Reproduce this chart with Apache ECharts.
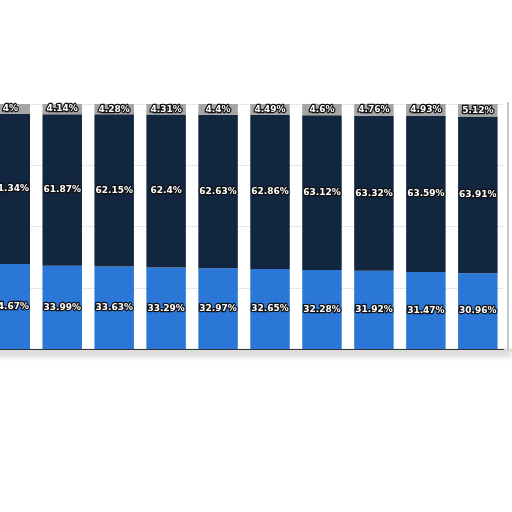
<!DOCTYPE html>
<html>
<head>
<meta charset="utf-8">
<script src="https://cdn.jsdelivr.net/npm/echarts@6/dist/echarts.min.js"></script>
<style>
  html, body { margin: 0; padding: 0; background: #fff; overflow: hidden; }
  #wrap { position: relative; width: 512px; height: 512px; overflow: hidden; }
  #main { position: absolute; left: -16px; top: 0; width: 528px; height: 512px; }
</style>
</head>
<body>
<div id="wrap"><div id="main"></div></div>
<script>
var categories = ['P1', 'P2', 'P3', 'P4', 'P5', 'P6', 'P7', 'P8', 'P9', 'P10'];
var lowShare = [34.67, 33.99, 33.63, 33.29, 32.97, 32.65, 32.28, 31.92, 31.47, 30.96];
var midShare = [61.34, 61.87, 62.15, 62.4, 62.63, 62.86, 63.12, 63.32, 63.59, 63.91];
var topShare = [4, 4.14, 4.28, 4.31, 4.4, 4.49, 4.6, 4.76, 4.93, 5.12];

var chartDom = document.getElementById('main');
var myChart = echarts.init(chartDom);

// white numbers with a dark halo, like the original
var label = {
    show: true,
    position: 'inside',
    formatter: function (p) { return p.value + '%'; },
    color: '#fff',
    fontFamily: 'DejaVu Sans',
    fontWeight: 'bold',
    fontSize: 9,
    textBorderColor: '#111',
    textBorderWidth: 2.5
};

function makeSeries(name, data, color) {
    return {
        name: name,
        type: 'bar',
        stack: 'Total',
        barCategoryGap: '24%',
        itemStyle: { color: color },
        label: label,
        data: data
    };
}

var option = {
    animation: false,
    grid: { left: 0.3, right: 8.2, top: 104, bottom: 163 },
    xAxis: {
        type: 'category',
        data: categories,
        axisLine: { lineStyle: { color: '#333', width: 1 } },
        axisTick: { show: false },
        axisLabel: { show: false }
    },
    yAxis: {
        type: 'value',
        min: 0,
        max: 100,
        interval: 25,
        axisLabel: { show: false },
        splitLine: { lineStyle: { color: '#cfcfcf', type: 'dotted' } }
    },
    graphic: [
        {
            type: 'rect',
            z: -1,
            shape: { x: 0, y: 349, width: 528, height: 3 },
            style: { fill: '#ddd', shadowBlur: 6, shadowColor: 'rgba(0,0,0,0.35)', shadowOffsetY: 3 }
        },
        {
            type: 'rect',
            shape: { x: 523, y: 102, width: 2, height: 248 },
            style: { fill: '#c8c8c8' }
        }
    ],
    series: [
        makeSeries('Low', lowShare, '#2a77d8'),
        makeSeries('Mid', midShare, '#12263f'),
        makeSeries('Top', topShare, '#a5a5a5')
    ]
};

option && myChart.setOption(option);
</script>
</body>
</html>
